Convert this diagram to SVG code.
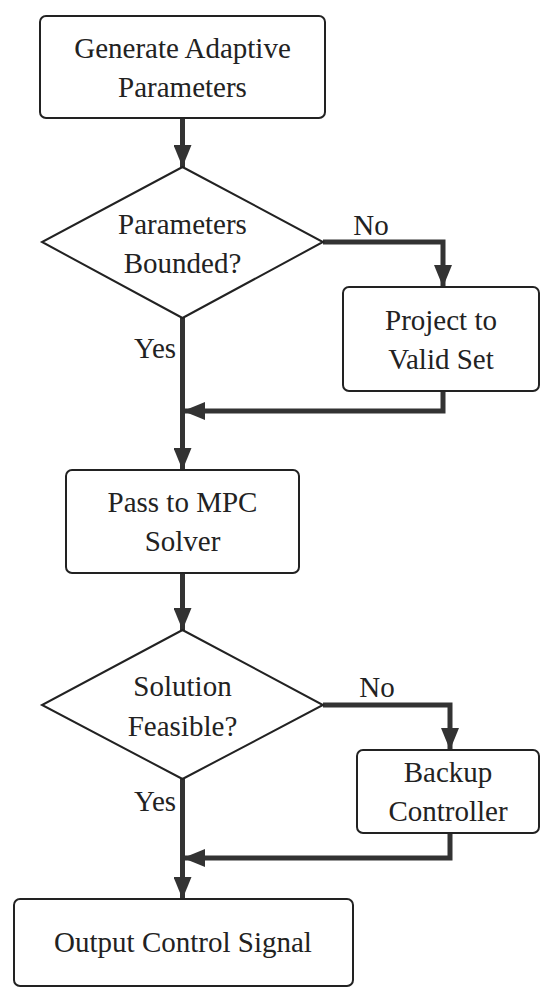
<svg xmlns="http://www.w3.org/2000/svg" width="550" height="1003" viewBox="0 0 550 1003">
<style>
.node{fill:#fff;stroke:#222;stroke-width:2}
.t{font-family:'Liberation Serif','Times New Roman',serif;font-size:29px;fill:#222;text-anchor:middle}
.c{fill:none;stroke:#333;stroke-width:5}
</style>
<defs>
<marker id="ah" markerUnits="userSpaceOnUse" markerWidth="22" markerHeight="18" refX="22" refY="9" orient="auto" viewBox="0 0 22 18">
<path d="M0,0 L22,9 L0,18 Z" fill="#333"/>
</marker>
</defs>
<rect width="550" height="1003" fill="#fff"/>
<g id="connectors">
<path class="c" d="M182.5,118 V167" marker-end="url(#ah)"/>
<path class="c" d="M323,242 H443 V287" marker-end="url(#ah)"/>
<path class="c" d="M182.5,318 V470" marker-end="url(#ah)"/>
<path class="c" d="M443,391 V411 H183" marker-end="url(#ah)"/>
<path class="c" d="M182.5,573 V630" marker-end="url(#ah)"/>
<path class="c" d="M323,705 H450 V750" marker-end="url(#ah)"/>
<path class="c" d="M182.5,779 V899" marker-end="url(#ah)"/>
<path class="c" d="M450,833 V858 H183" marker-end="url(#ah)"/>
<text class="t" x="371" y="235">No</text>
<text class="t" x="155" y="358">Yes</text>
<text class="t" x="377" y="697">No</text>
<text class="t" x="155" y="811">Yes</text>
</g>
<g id="n1">
<rect class="node" x="40" y="16" width="285" height="102" rx="6"/>
<text class="t" x="182.5" y="58">Generate Adaptive</text>
<text class="t" x="182.5" y="97">Parameters</text>
</g>
<g id="n2">
<polygon class="node" points="182.5,167 323,242 182.5,318 42,242"/>
<text class="t" x="182.5" y="234">Parameters</text>
<text class="t" x="182.5" y="273">Bounded?</text>
</g>
<g id="n3">
<rect class="node" x="343" y="287" width="196" height="104" rx="6"/>
<text class="t" x="441" y="330">Project to</text>
<text class="t" x="441" y="369">Valid Set</text>
</g>
<g id="n4">
<rect class="node" x="66" y="470" width="233" height="103" rx="6"/>
<text class="t" x="182.5" y="512">Pass to MPC</text>
<text class="t" x="182.5" y="551">Solver</text>
</g>
<g id="n5">
<polygon class="node" points="182.5,630 323,705 182.5,779 42,705"/>
<text class="t" x="182.5" y="696">Solution</text>
<text class="t" x="182.5" y="736">Feasible?</text>
</g>
<g id="n6">
<rect class="node" x="357" y="750" width="182" height="83" rx="6"/>
<text class="t" x="448" y="782">Backup</text>
<text class="t" x="448" y="821">Controller</text>
</g>
<g id="n7">
<rect class="node" x="14" y="899" width="339" height="87" rx="6"/>
<text class="t" x="183" y="952">Output Control Signal</text>
</g>
</svg>
